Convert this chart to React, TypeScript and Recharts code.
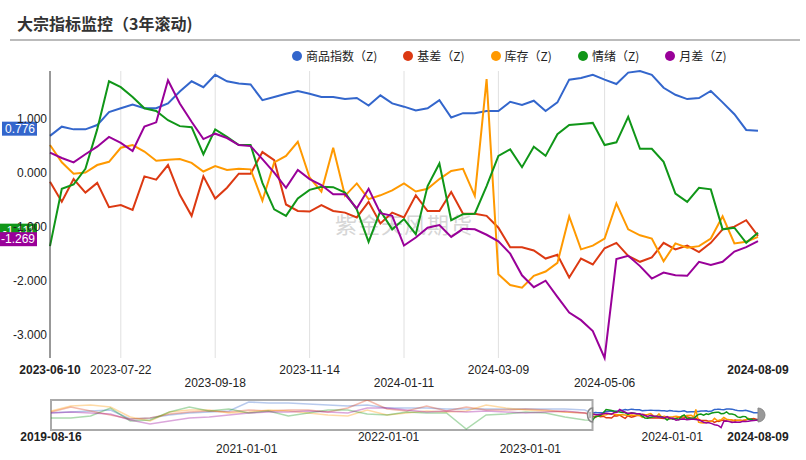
import {
  LineChart, Line, XAxis, YAxis, ReferenceLine, ReferenceArea, ReferenceDot,
} from "recharts";

// 主图：2023-06-10 ~ 2024-08-09（约每周一点）
const dates = [
  "2023-06-10", "2023-06-17", "2023-06-24", "2023-07-01", "2023-07-08", "2023-07-15", "2023-07-22", "2023-07-29", "2023-08-05", "2023-08-12",
  "2023-08-19", "2023-08-26", "2023-09-02", "2023-09-09", "2023-09-18", "2023-09-25", "2023-10-02", "2023-10-09", "2023-10-16", "2023-10-23",
  "2023-10-30", "2023-11-07", "2023-11-14", "2023-11-21", "2023-11-28", "2023-12-05", "2023-12-12", "2023-12-19", "2023-12-26", "2024-01-03",
  "2024-01-11", "2024-01-18", "2024-01-25", "2024-02-01", "2024-02-08", "2024-02-19", "2024-02-26", "2024-03-02", "2024-03-09", "2024-03-15",
  "2024-03-22", "2024-03-29", "2024-04-03", "2024-04-12", "2024-04-19", "2024-04-26", "2024-04-30", "2024-05-06", "2024-05-13", "2024-05-20",
  "2024-05-27", "2024-06-03", "2024-06-11", "2024-06-17", "2024-06-24", "2024-07-01", "2024-07-08", "2024-07-15", "2024-07-22", "2024-07-29",
  "2024-08-09",
];
const commodity = [
  0.68, 0.85, 0.80, 0.80, 0.88, 1.12, 1.19, 1.26, 1.19, 1.19,
  1.28, 1.50, 1.69, 1.58, 1.81, 1.69, 1.65, 1.63, 1.34, 1.40,
  1.46, 1.51, 1.46, 1.40, 1.40, 1.36, 1.38, 1.24, 1.43, 1.28,
  1.22, 1.15, 1.19, 1.34, 1.02, 1.10, 1.10, 1.14, 1.14, 1.31,
  1.25, 1.33, 1.14, 1.30, 1.72, 1.75, 1.81, 1.72, 1.64, 1.85,
  1.88, 1.81, 1.57, 1.44, 1.36, 1.38, 1.51, 1.30, 1.08, 0.79,
  0.776,
];
const basis = [
  -0.17, -0.54, -0.12, -0.37, -0.19, -0.64, -0.60, -0.69, -0.07, -0.13,
  0.14, -0.41, -0.80, -0.07, -0.48, -0.28, -0.02, -0.02, 0.38, 0.23,
  -0.59, -0.71, -0.72, -0.60, -0.71, -0.74, -0.83, -0.54, -0.94, -0.74,
  -0.83, -0.42, -0.71, -0.71, -0.36, -0.76, -0.76, -0.80, -1.02, -1.38,
  -1.38, -1.44, -1.59, -1.52, -1.94, -1.59, -1.70, -1.40, -1.30, -1.54,
  -1.65, -1.57, -1.30, -1.42, -1.35, -1.47, -1.30, -1.05, -1.00, -0.88,
  -1.17,
];
const inventory = [
  0.51, 0.19, -0.02, 0.00, 0.14, 0.20, 0.46, 0.51, 0.39, 0.22,
  0.24, 0.25, 0.18, 0.02, 0.12, 0.05, 0.07, 0.06, -0.52, 0.19,
  0.31, 0.57, -0.09, -0.35, 0.46, -0.43, -0.20, -0.49, -0.42, -0.33,
  -0.20, -0.35, -0.30, -0.12, 0.03, 0.07, -0.43, 1.73, -1.88, -2.08,
  -2.13, -1.91, -1.83, -1.67, -0.81, -1.42, -1.35, -1.22, -0.57, -1.05,
  -1.16, -1.22, -1.64, -1.31, -1.39, -1.36, -1.22, -0.81, -1.31, -1.28,
  -1.19,
];
const sentiment = [
  -1.36, -0.30, -0.22, 0.07, 0.80, 1.69, 1.58, 1.40, 1.19, 1.14,
  0.97, 0.86, 0.84, 0.34, 0.80, 0.66, 0.51, 0.51, -0.19, -0.68,
  -0.80, -0.48, -0.32, -0.26, -0.27, -0.37, -0.68, -1.28, -0.71, -1.05,
  -0.86, -1.14, -0.25, 0.17, -0.88, -0.77, -0.76, -0.25, 0.31, 0.43,
  0.10, 0.48, 0.31, 0.71, 0.88, 0.90, 0.92, 0.51, 0.56, 1.03,
  0.44, 0.44, 0.20, -0.39, -0.54, -0.28, -0.31, -1.05, -1.02, -1.30,
  -1.111,
];
const spread = [
  0.37, 0.27, 0.19, 0.34, 0.48, 0.66, 0.55, 0.40, 0.85, 0.93,
  1.71, 1.28, 0.94, 0.62, 0.72, 0.64, 0.51, 0.49, 0.25, 0.00,
  -0.28, 0.05, -0.12, -0.23, -0.40, -0.40, -0.66, -0.30, -0.75, -0.80,
  -1.35, -1.20, -1.02, -0.97, -1.19, -1.04, -1.05, -1.15, -1.27, -1.50,
  -1.90, -2.12, -2.00, -2.30, -2.59, -2.73, -2.93, -3.43, -1.60, -1.54,
  -1.73, -1.96, -1.85, -1.90, -1.91, -1.65, -1.71, -1.65, -1.46, -1.38,
  -1.269,
];

// 下方缩略图：2019-08-16 起的历史（粗略采样）
const histDates = [
  "2019-08-16", "2019-10-06", "2019-11-26", "2020-01-16", "2020-03-07", "2020-04-27", "2020-06-16",
  "2020-08-06", "2020-09-26", "2020-11-16", "2021-01-06", "2021-02-26", "2021-04-18", "2021-06-08",
  "2021-07-29", "2021-09-18", "2021-11-07", "2021-12-28", "2022-02-17", "2022-04-09", "2022-05-30",
  "2022-07-20", "2022-09-09", "2022-10-30", "2022-12-20", "2023-02-09", "2023-03-31", "2023-05-21",
];
const histCommodity = [0.80, 1.00, 1.28, 1.57, -0.98, -0.70, 0.15, 0.72, 1.00, 1.28, 3.83, 3.55, 3.55, 3.27, 2.98, 2.70, 2.98, 2.13, 2.13, 2.13, 1.85, 1.85, 1.85, 1.85, 1.85, 1.85, 1.85, 1.57];
const histBasis = [1.00, 2.42, 1.28, 0.15, -0.98, -0.70, 0.43, 1.00, 1.28, 1.00, 1.57, 1.28, 1.57, 1.57, 1.00, 2.13, 4.40, 1.85, 1.28, 2.70, 1.28, 2.42, 1.57, 1.57, 1.85, 1.57, 1.00, 0.72];
const histInventory = [1.28, 2.70, 2.98, 2.42, -0.42, -1.55, 1.00, 1.57, 1.57, 0.72, 1.00, 1.57, 1.28, 0.72, 0.15, -0.13, 1.57, 0.15, 0.72, 1.28, 1.00, 1.28, 2.98, 2.13, 1.57, 1.28, 1.00, 0.72];
const histSentiment = [-0.70, -0.70, -0.13, 2.13, -1.55, -1.27, 1.00, 2.42, 1.28, 1.85, 0.72, 1.28, -0.13, 0.72, 1.57, 1.57, 0.43, 0.15, 1.00, 0.72, 0.72, -3.82, 0.15, 0.43, 1.00, 0.72, -0.42, -1.27];
const histSpread = [0.72, 1.00, 0.72, 0.43, -1.27, -2.40, -1.55, -0.70, -0.42, 0.15, 0.72, 1.00, 1.00, 1.28, 1.00, 0.72, 2.13, 2.13, 1.57, 1.00, 1.28, 1.00, 1.28, 1.00, 0.72, 1.00, 1.28, 0.72];

const yTicks = [-3, -2, -1, 0, 1];
const xTicks = ["2023-06-10", "2023-07-22", "2023-09-18", "2023-11-14", "2024-01-11", "2024-03-09", "2024-05-06", "2024-08-09"];
const xTicksLower = ["2023-09-18", "2024-01-11", "2024-05-06"];
const miniTicks = ["2019-08-16", "2021-01-01", "2022-01-01", "2023-01-01", "2024-01-01", "2024-08-09"];
const miniTicksLower = ["2021-01-01", "2023-01-01"];

const SERIES = [
  { key: "c", name: "商品指数（Z)", color: "#3366cc", values: commodity, hist: histCommodity },
  { key: "b", name: "基差（Z)", color: "#dc3912", values: basis, hist: histBasis },
  { key: "i", name: "库存（Z)", color: "#ff9900", values: inventory, hist: histInventory },
  { key: "s", name: "情绪（Z)", color: "#109618", values: sentiment, hist: histSentiment },
  { key: "m", name: "月差（Z)", color: "#990099", values: spread, hist: histSpread },
];

const FONT = "Arial, 'Liberation Sans', sans-serif";
const CJK = "'Noto Sans CJK SC', 'Noto Sans', sans-serif";

const rows = dates.map((d, i) => {
  const r: Record<string, string | number> = { date: d, t: Date.parse(d) };
  SERIES.forEach((s) => { r[s.key] = s.values[i]; });
  return r;
});
const histRows = [
  ...histDates.map((d, i) => {
    const r: Record<string, string | number> = { t: Date.parse(d) };
    SERIES.forEach((s) => { r[s.key] = s.hist[i]; });
    return r;
  }),
  rows[0],                                  // 接上主图窗口起点
];

const MINI_MIN = -4.1, MINI_MAX = 4.4;
const tFirst = Date.parse(histDates[0]);
const tLast = Date.parse(dates[dates.length - 1]);
const tWin = Date.parse(dates[0]);

function DateTick({ x, y, payload, lower, label }:
  { x?: number; y?: number; payload?: { value: string | number }; lower: string[]; label?: (v: any) => string }) {
  if (x == null || y == null || !payload) return null;
  const text = label ? label(payload.value) : String(payload.value);
  const edge = text === xTicks[0] || text === xTicks[xTicks.length - 1] || text === miniTicks[0];
  return (
    <text x={x} y={y} dy={lower.includes(text) ? 29 : 16} textAnchor="middle"
      fontSize={12} fontFamily={FONT} fill="#222" fontWeight={edge ? "bold" : "normal"}>
      {text}
    </text>
  );
}

function MiniTick(props: any) {
  const { x, y, payload } = props;
  const text = new Date(payload.value).toISOString().slice(0, 10);
  const edge = text === miniTicks[0] || text === miniTicks[miniTicks.length - 1];
  return (
    <text x={x} y={y} dy={miniTicksLower.includes(text) ? 23 : 11} textAnchor="middle"
      fontSize={12} fontFamily={FONT} fill="#222" fontWeight={edge ? "bold" : "normal"}>
      {text}
    </text>
  );
}

// y 轴左侧的最新值标签
function EndTag({ viewBox, color, text }: { viewBox?: { x: number; y: number }; color: string; text: string }) {
  if (!viewBox) return null;
  const w = text.length * 6.2 + 4;
  const right = viewBox.x - 13;
  return (
    <g>
      <rect x={right - w} y={viewBox.y - 9} width={w} height={14} fill={color} />
      <text x={right - 2} y={viewBox.y + 2} textAnchor="end" fontSize={12}
        fontFamily={FONT} fill="#fff">{text}</text>
    </g>
  );
}

function LeftHandle({ cx, cy }: { cx?: number; cy?: number }) {
  if (cx == null || cy == null) return null;
  return (
    <g>
      <path d={`M${cx},${cy - 7} A5,7 0 0 0 ${cx},${cy + 7} Z`} fill="#eee" stroke="#888" strokeWidth={1.5} />
      <line x1={cx - 2.5} x2={cx - 2.5} y1={cy - 3} y2={cy + 3} stroke="#888" />
    </g>
  );
}
function RightHandle({ cx, cy }: { cx?: number; cy?: number }) {
  if (cx == null || cy == null) return null;
  return <path d={`M${cx},${cy - 7} A7,7 0 0 1 ${cx},${cy + 7} Z`} fill="#999" stroke="#888" />;
}

export default function App() {
  const last = (s: typeof SERIES[number]) => s.values[s.values.length - 1];
  const tagOrder = [SERIES[0], SERIES[2], SERIES[3], SERIES[4]];
  return (
    <div style={{ position: "absolute", left: 0, top: 0, width: 806, height: 460, background: "#fff", overflow: "hidden" }}>
      <div style={{ position: "absolute", left: 17, top: 14, fontFamily: CJK, fontSize: 16, fontWeight: "bold", color: "#333", lineHeight: "18px" }}>
        大宗指标监控（3年滚动)
      </div>
      <div style={{ position: "absolute", left: 10, top: 39, width: 790, height: 2, background: "#bbb" }} />
      <div style={{ position: "absolute", left: 292, top: 48, display: "flex", fontFamily: CJK, fontSize: 12, color: "#222", lineHeight: "16px" }}>
        {SERIES.map((s) => (
          <div key={s.key} style={{ display: "flex", alignItems: "center", marginRight: 26 }}>
            <span style={{ width: 10, height: 10, borderRadius: 5, background: s.color, marginRight: 4 }} />
            <span>{s.name}</span>
          </div>
        ))}
      </div>
      <div style={{ position: "absolute", left: 335, top: 210, fontFamily: CJK, fontSize: 22, color: "#d6d6d6", lineHeight: "26px", letterSpacing: 1 }}>
        紫金天风期货
      </div>

      <div style={{ position: "absolute", left: 0, top: 0 }}>
        <LineChart width={806} height={400} data={rows} margin={{ top: 71, right: 48, bottom: 12, left: 0 }}>
          {xTicks.slice(1, -1).map((d) => (
            <ReferenceLine key={d} x={d} stroke="#e0e0e0" />
          ))}
          <XAxis dataKey="date" ticks={xTicks} interval={0} axisLine={false} tickLine={false}
            tickSize={0} tickMargin={0} height={30} tick={<DateTick lower={xTicksLower} />} />
          <YAxis domain={["dataMin", "dataMax"]} ticks={yTicks} width={50} tickSize={0} tickMargin={3}
            tickFormatter={(v: number) => v.toFixed(3)} axisLine={{ stroke: "#333" }} tickLine={false}
            tick={{ fontSize: 12, fill: "#222", fontFamily: FONT }} />
          {SERIES.map((s) => (
            <Line key={s.key} dataKey={s.key} name={s.name} stroke={s.color} strokeWidth={2}
              dot={false} activeDot={false} isAnimationActive={false} />
          ))}
          {tagOrder.map((s) => (
            <ReferenceLine key={`tag-${s.key}`} y={last(s)} stroke="none" ifOverflow="visible"
              label={<EndTag color={s.color} text={last(s).toFixed(3)} />} />
          ))}
        </LineChart>
      </div>

      <div style={{ position: "absolute", left: 0, top: 392 }}>
        <LineChart width={806} height={68} margin={{ top: 8, right: 48, bottom: 0, left: 51 }}>
          <XAxis type="number" dataKey="t" domain={[tFirst, tLast]} allowDataOverflow
            ticks={miniTicks.map((d) => Date.parse(d))} interval={0} axisLine={false} tickLine={false}
            tickSize={0} tickMargin={0} height={30} tick={<MiniTick />} />
          <YAxis hide domain={[MINI_MIN, MINI_MAX]} allowDataOverflow />
          <ReferenceArea x1={tFirst} x2={tWin} y1={MINI_MIN} y2={MINI_MAX} fill="none"
            stroke="#aaa" strokeWidth={2} ifOverflow="visible" />
          {SERIES.map((s) => (
            <Line key={`h-${s.key}`} data={histRows} dataKey={s.key} stroke={s.color} strokeOpacity={0.35}
              strokeWidth={1.5} dot={false} activeDot={false} isAnimationActive={false} />
          ))}
          {SERIES.map((s) => (
            <Line key={`w-${s.key}`} data={rows} dataKey={s.key} stroke={s.color}
              strokeWidth={1.5} dot={false} activeDot={false} isAnimationActive={false} />
          ))}
          <ReferenceDot x={tWin} y={0.15} r={0} shape={<LeftHandle />} ifOverflow="visible" />
          <ReferenceDot x={tLast} y={0.15} r={0} shape={<RightHandle />} ifOverflow="visible" />
        </LineChart>
      </div>
    </div>
  );
}
